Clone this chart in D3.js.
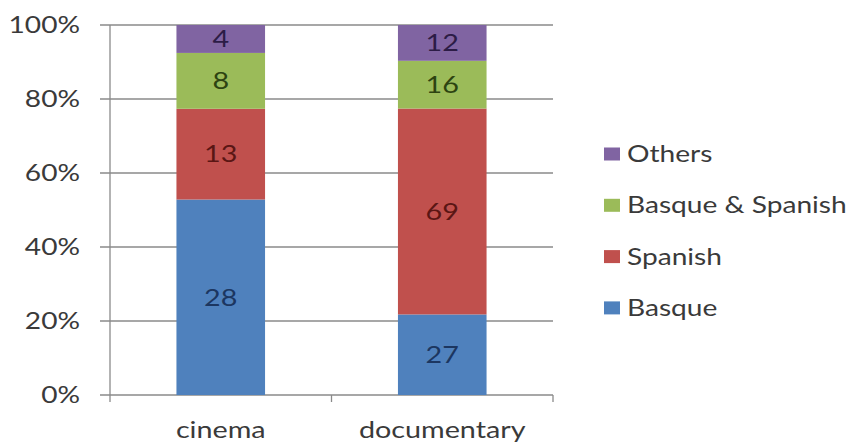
<!DOCTYPE html>
<html>
<head>
<meta charset="utf-8">
<script src="https://cdn.jsdelivr.net/npm/d3@7"></script>
<style>
  body { margin: 0; background: #fff; }
  svg text { font-family: Lato, "Open Sans", sans-serif; }
</style>
</head>
<body>
<svg id="chart" width="850" height="447"></svg>
<script>
// data
var categories = ["cinema", "documentary"];
var seriesNames = ["Basque", "Spanish", "Basque & Spanish", "Others"];
var basque = [28, 27];
var spanish = [13, 69];
var basqueSpanish = [8, 16];
var others = [4, 12];
var yTicks = [0, 0.2, 0.4, 0.6, 0.8, 1];

var colors = ["#4f81bd", "#c0504d", "#9bbb59", "#8064a2"];
var labelColors = ["#1c3660", "#5a1614", "#2d4311", "#2c1c46"];
var sx = 1.25; // the picture is stretched sideways

var rows = categories.map(function(c, i) {
  return { cat: c, "Basque": basque[i], "Spanish": spanish[i],
           "Basque & Spanish": basqueSpanish[i], "Others": others[i] };
});

var svg = d3.select("#chart");
var plotL = 110, plotR = 553, plotT = 25, plotB = 395;

var x = d3.scaleBand().domain(categories).range([plotL, plotR]);
var y = d3.scaleLinear().domain([0, 1]).range([plotB, plotT]);
var barW = x.bandwidth() * 0.4;

var stack = d3.stack().keys(seriesNames).offset(d3.stackOffsetExpand);
var layers = stack(rows);

// gridlines + y labels
var grid = svg.append("g");
grid.selectAll("line").data(yTicks).enter().append("line")
  .attr("x1", plotL - 10).attr("x2", plotR)
  .attr("y1", function(d) { return y(d); })
  .attr("y2", function(d) { return y(d); })
  .attr("stroke", "#8a8a8a").attr("stroke-width", 1.3);

grid.selectAll("g.yl").data(yTicks).enter().append("g")
  .attr("class", "yl")
  .attr("transform", function(d) { return "translate(80," + y(d) + ") scale(" + sx + ",1)"; })
  .append("text")
  .attr("text-anchor", "end").attr("dy", "0.36em")
  .attr("font-size", 22.5).attr("fill", "#3a3a3a")
  .text(d3.format(".0%"));

// axis lines
svg.append("line").attr("x1", plotL).attr("x2", plotL)
  .attr("y1", plotT).attr("y2", plotB)
  .attr("stroke", "#8a8a8a").attr("stroke-width", 1.3);
var xTickPos = [plotL, plotL + x.step(), plotR];
svg.selectAll("line.xt").data(xTickPos).enter().append("line")
  .attr("class", "xt")
  .attr("x1", function(d) { return d; }).attr("x2", function(d) { return d; })
  .attr("y1", plotB).attr("y2", plotB + 7)
  .attr("stroke", "#8a8a8a").attr("stroke-width", 1.3);

// bars
var g = svg.append("g");
layers.forEach(function(layer, k) {
  g.selectAll("rect.s" + k).data(layer).enter().append("rect")
    .attr("class", "s" + k)
    .attr("x", function(d) { return x(d.data.cat) + (x.bandwidth() - barW) / 2; })
    .attr("width", barW)
    .attr("y", function(d) { return y(d[1]); })
    .attr("height", function(d) { return y(d[0]) - y(d[1]); })
    .attr("fill", colors[k]);

  g.selectAll("g.l" + k).data(layer).enter().append("g")
    .attr("class", "l" + k)
    .attr("transform", function(d) {
      return "translate(" + (x(d.data.cat) + x.bandwidth() / 2) + "," +
        ((y(d[0]) + y(d[1])) / 2) + ") scale(" + sx + ",1)";
    })
    .append("text")
    .attr("text-anchor", "middle").attr("dy", "0.36em")
    .attr("font-size", 23).attr("fill", labelColors[k])
    .text(function(d) { return d.data[layer.key]; });
});

// category labels
svg.selectAll("g.xl").data(categories).enter().append("g")
  .attr("class", "xl")
  .attr("transform", function(d) { return "translate(" + (x(d) + x.bandwidth() / 2) + ",438) scale(" + sx + ",1)"; })
  .append("text")
  .attr("text-anchor", "middle")
  .attr("font-size", 23).attr("fill", "#3a3a3a")
  .text(function(d) { return d; });

// legend (top to bottom: Others first)
var legendOrder = seriesNames.slice().reverse();
var leg = svg.selectAll("g.leg").data(legendOrder).enter().append("g")
  .attr("class", "leg")
  .attr("transform", function(d, i) { return "translate(604," + (154 + i * 51.3) + ")"; });
leg.append("rect")
  .attr("x", 0).attr("y", -6.5).attr("width", 16).attr("height", 13)
  .attr("fill", function(d) { return colors[seriesNames.indexOf(d)]; });
leg.append("g").attr("transform", "translate(23,0) scale(" + sx + ",1)")
  .append("text")
  .attr("dy", "0.36em")
  .attr("font-size", 22.5).attr("fill", "#3a3a3a")
  .text(function(d) { return d; });
</script>
</body>
</html>
